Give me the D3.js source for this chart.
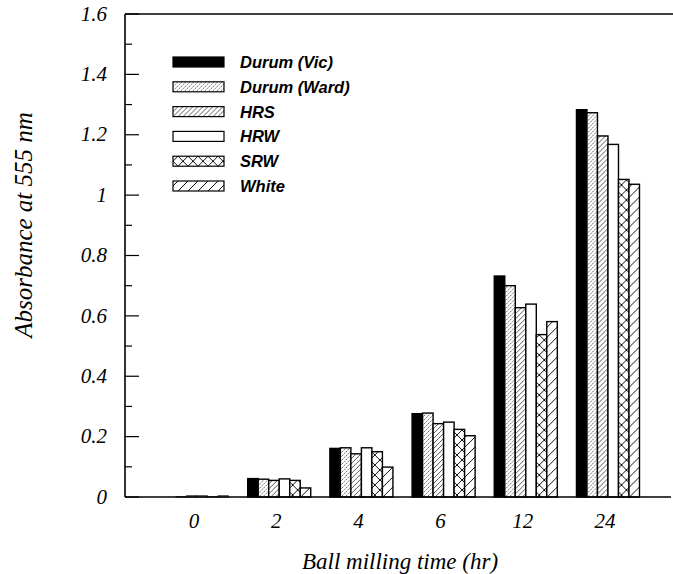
<!DOCTYPE html>
<html>
<head>
<meta charset="utf-8">
<script src="https://cdn.jsdelivr.net/npm/d3@7"></script>
<style>
  body { margin: 0; background: #fff; }
  svg { display: block; }
</style>
</head>
<body>
<div id="chart"></div>
<script>
const times = ["0", "2", "4", "6", "12", "24"];
const series = ["Durum (Vic)", "Durum (Ward)", "HRS", "HRW", "SRW", "White"];

// absorbance per series, one value for each milling time
const durumVic = [0.0, 0.061, 0.161, 0.276, 0.732, 1.283];
const durumWard = [0.001, 0.059, 0.163, 0.278, 0.7, 1.273];
const hrs = [0.004, 0.055, 0.143, 0.243, 0.627, 1.196];
const hrw = [0.004, 0.06, 0.163, 0.248, 0.639, 1.168];
const srw = [0.001, 0.055, 0.15, 0.224, 0.538, 1.052];
const white = [0.004, 0.03, 0.099, 0.203, 0.581, 1.036];

const yTicks = [0, 0.2, 0.4, 0.6, 0.8, 1, 1.2, 1.4, 1.6];
const yTickLabels = ["0", "0.2", "0.4", "0.6", "0.8", "1", "1.2", "1.4", "1.6"];

const values = [durumVic, durumWard, hrs, hrw, srw, white];
const fills = ["#000", "url(#ward)", "url(#hrs)", "#fff", "url(#srw)", "url(#white)"];

const width = 673;
const height = 574;
const margin = { t: 14, r: 0, b: 77, l: 125 };

const svg = d3
  .select("#chart")
  .append("svg")
  .attr("width", width)
  .attr("height", height);

// hatch patterns
const defs = svg.append("defs");

function hatch(id, size, stroke, sw, dash, cross) {
  const p = defs
    .append("pattern")
    .attr("id", id)
    .attr("patternUnits", "userSpaceOnUse")
    .attr("width", size)
    .attr("height", size);
  p.append("rect").attr("width", size).attr("height", size).attr("fill", "#fff");
  const s = size;
  p.append("path")
    .attr("d", `M0,${s} L${s},0 M${-s / 2},${s / 2} L${s / 2},${-s / 2} M${s / 2},${s * 1.5} L${s * 1.5},${s / 2}`)
    .attr("stroke", stroke)
    .attr("stroke-width", sw)
    .attr("stroke-dasharray", dash);
  if (cross) {
    p.append("path")
      .attr("d", `M0,0 L${s},${s} M${-s / 2},${s / 2} L${s / 2},${s * 1.5} M${s / 2},${-s / 2} L${s * 1.5},${s / 2}`)
      .attr("stroke", stroke)
      .attr("stroke-width", sw);
  }
}
hatch("ward", 4, "#444", 0.8, "2,1", false);
hatch("hrs", 5, "#333", 0.8, null, false);
hatch("srw", 10, "#111", 1, null, true);
hatch("white", 10, "#111", 1, null, false);

const y = d3
  .scaleLinear()
  .domain([0, 1.6])
  .range([height - margin.b, margin.t]);

const x0 = d3
  .scaleBand()
  .domain(times)
  .range([165.5, 639.5])
  .paddingInner(0.233);

const x1 = d3.scaleBand().domain(series).range([0, x0.bandwidth()]);

// bars
const groups = svg
  .append("g")
  .selectAll("g")
  .data(times)
  .join("g")
  .attr("transform", (d) => `translate(${x0(d)},0)`);

groups
  .selectAll("rect")
  .data((t, i) => series.map((s, j) => ({ s, j, v: values[j][i] })))
  .join("rect")
  .attr("x", (d) => x1(d.s))
  .attr("y", (d) => y(d.v))
  .attr("width", x1.bandwidth())
  .attr("height", (d) => y(0) - y(d.v))
  .attr("fill", (d) => fills[d.j])
  .attr("stroke", "#000")
  .attr("stroke-width", (d) => (d.v > 0.005 ? 1.4 : 0.8));

// frame: left, top, bottom
const frame = svg.append("g").attr("stroke", "#000").attr("fill", "none");
frame.append("line").attr("x1", margin.l).attr("x2", margin.l).attr("y1", y(1.6)).attr("y2", y(0)).attr("stroke-width", 1.6);
frame.append("line").attr("x1", margin.l).attr("x2", width).attr("y1", y(1.6)).attr("y2", y(1.6)).attr("stroke-width", 1.4);
frame.append("line").attr("x1", margin.l).attr("x2", 671).attr("y1", y(0)).attr("y2", y(0)).attr("stroke-width", 1.6);

// inward ticks, major every 0.2 and minor in between
const minor = d3.range(0.1, 1.6, 0.2);
svg.append("g")
  .selectAll("line")
  .data(yTicks)
  .join("line")
  .attr("x1", margin.l)
  .attr("x2", margin.l + 14)
  .attr("y1", (d) => y(d))
  .attr("y2", (d) => y(d))
  .attr("stroke", "#000")
  .attr("stroke-width", 1.2);
svg.append("g")
  .selectAll("line")
  .data(minor)
  .join("line")
  .attr("x1", margin.l)
  .attr("x2", margin.l + 7)
  .attr("y1", (d) => y(d))
  .attr("y2", (d) => y(d))
  .attr("stroke", "#000")
  .attr("stroke-width", 1.2);

const serif = "'Liberation Serif', 'Times New Roman', serif";

svg.append("g")
  .selectAll("text")
  .data(yTicks)
  .join("text")
  .attr("x", 107)
  .attr("y", (d) => y(d))
  .attr("dy", "0.32em")
  .attr("text-anchor", "end")
  .style("font-family", serif)
  .style("font-style", "italic")
  .style("font-size", "21px")
  .text((d, i) => yTickLabels[i]);

svg.append("g")
  .selectAll("text")
  .data(times)
  .join("text")
  .attr("x", (d) => x0(d) + x0.bandwidth() / 2 - 3)
  .attr("y", 528)
  .attr("text-anchor", "middle")
  .style("font-family", serif)
  .style("font-style", "italic")
  .style("font-size", "21px")
  .text((d) => d);

svg.append("text")
  .attr("x", 400)
  .attr("y", 569)
  .attr("text-anchor", "middle")
  .style("font-family", serif)
  .style("font-style", "italic")
  .style("font-size", "23px")
  .text("Ball milling time (hr)");

svg.append("text")
  .attr("transform", "translate(32,225) rotate(-90)")
  .attr("text-anchor", "middle")
  .style("font-family", serif)
  .style("font-style", "italic")
  .style("font-size", "25px")
  .text("Absorbance at 555 nm");

// legend
const legend = svg
  .append("g")
  .selectAll("g")
  .data(series)
  .join("g")
  .attr("transform", (d, i) => `translate(173,${62 + i * 24.8})`);

legend
  .append("rect")
  .attr("x", 0)
  .attr("y", -5)
  .attr("width", 51)
  .attr("height", 10)
  .attr("fill", (d, i) => fills[i])
  .attr("stroke", "#000")
  .attr("stroke-width", 1.2);

legend
  .append("text")
  .attr("x", 67)
  .attr("dy", "0.36em")
  .style("font-family", "'Liberation Sans', Arial, sans-serif")
  .style("font-style", "italic")
  .style("font-weight", "bold")
  .style("font-size", "16.5px")
  .text((d) => d);
</script>
</body>
</html>
